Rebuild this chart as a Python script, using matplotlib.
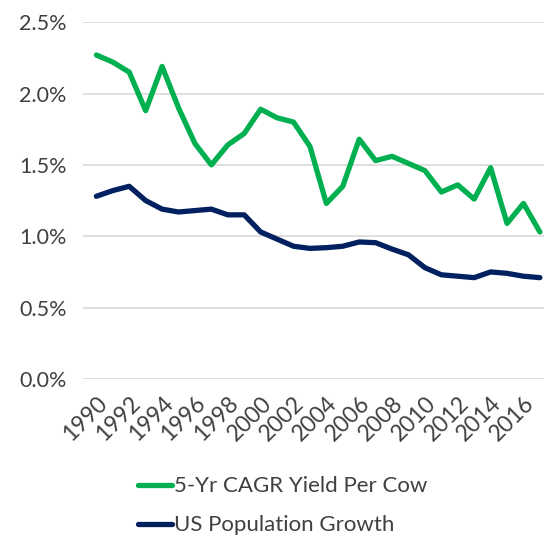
import numpy as np
import matplotlib.pyplot as plt
from matplotlib.ticker import PercentFormatter

plt.rcParams['font.family'] = ['Lato', 'DejaVu Sans']

years = list(range(1990, 2018))
yield_cagr = [2.27, 2.22, 2.15, 1.88, 2.19, 1.90, 1.65, 1.50, 1.64, 1.72,
              1.89, 1.83, 1.80, 1.63, 1.23, 1.35, 1.68, 1.53, 1.56, 1.51,
              1.46, 1.31, 1.36, 1.26, 1.48, 1.09, 1.23, 1.03]
pop_growth = [1.28, 1.32, 1.35, 1.25, 1.19, 1.17, 1.18, 1.19, 1.15, 1.15,
              1.03, 0.98, 0.93, 0.915, 0.92, 0.93, 0.96, 0.955, 0.91, 0.87,
              0.78, 0.73, 0.72, 0.71, 0.75, 0.74, 0.72, 0.71]
tick_years = list(range(1990, 2017, 2))

fig = plt.figure(figsize=(5.44, 5.41), dpi=100)
ax = fig.add_axes([0.153, 0.2995, 0.847, 0.6595])

ax.plot(years, yield_cagr, color='#00B050', lw=3.8, label='5-Yr CAGR Yield Per Cow',
        solid_joinstyle='round', solid_capstyle='round')
ax.plot(years, pop_growth, color='#002060', lw=3.8, label='US Population Growth',
        solid_joinstyle='round', solid_capstyle='round')

ax.set_ylim(0, 2.5)
ax.set_xlim(1989.2, 2017.25)
ax.set_yticks(np.arange(0, 2.51, 0.5))
ax.yaxis.set_major_formatter(PercentFormatter(decimals=1))
ax.set_xticks(tick_years)
ax.set_xticklabels([str(y) for y in tick_years], rotation=45, ha='right',
                   rotation_mode='anchor')
ax.tick_params(length=0, labelsize=15.5, colors='#404040', pad=12)
ax.tick_params(axis='x', labelsize=16.5, pad=10)
ax.grid(axis='y', color='#D9D9D9', lw=1.2)
ax.set_axisbelow(True)
for s in ax.spines.values():
    s.set_visible(False)

leg = fig.legend(loc='center', bbox_to_anchor=(0.52, 0.065), ncol=1, frameon=False,
                 fontsize=16, handlelength=1.5, handletextpad=0.1, labelspacing=0.85)
for t in leg.get_texts():
    t.set_color('#404040')

fig.savefig('out.png', dpi=100)
